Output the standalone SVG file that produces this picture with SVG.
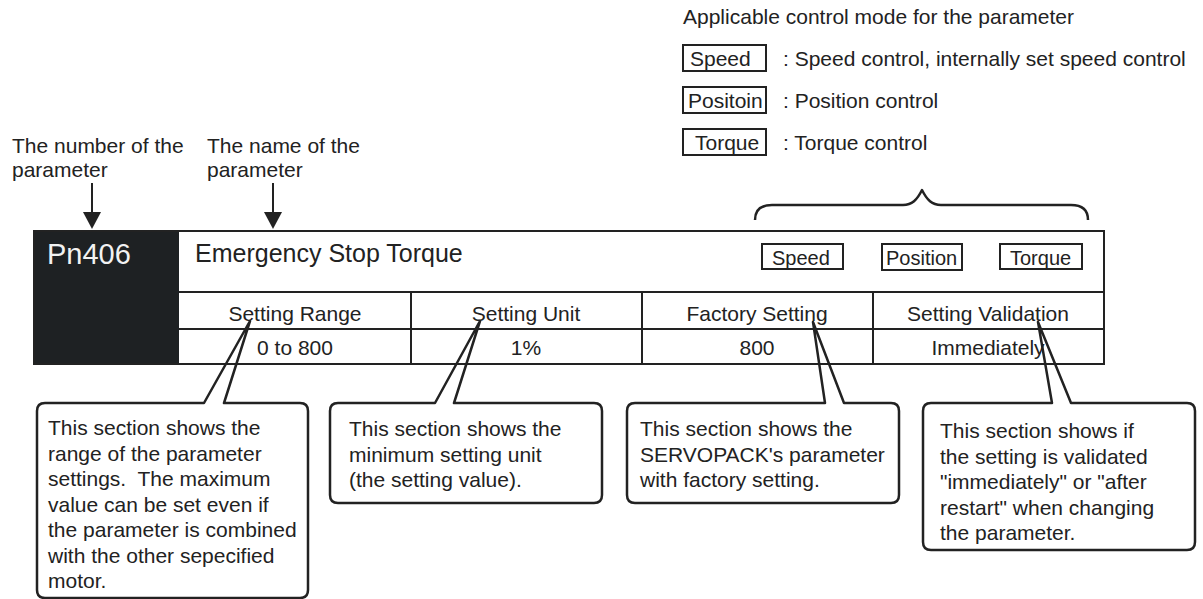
<svg xmlns="http://www.w3.org/2000/svg" width="1203" height="599" viewBox="0 0 1203 599">
<style>
text{font-family:"Liberation Sans",Arial,sans-serif;fill:#222;}
.t21{font-size:21px;}
.t20{font-size:20px;}
.mid{text-anchor:middle;}
.ln{stroke:#222;stroke-width:2;fill:none;}
.box{stroke:#222;stroke-width:2;fill:none;}
.call{stroke:#222;stroke-width:2.5;fill:none;stroke-linejoin:round;}
</style>
<rect width="1203" height="599" fill="#fff"/>

<g id="legend">
<text class="t21" x="683" y="24">Applicable control mode for the parameter</text>
<rect class="box" x="683" y="45" width="83" height="26"/>
<text class="t21" x="690" y="66">Speed</text>
<text class="t21" x="783" y="66">: Speed control, internally set speed control</text>
<rect class="box" x="683" y="87" width="83" height="26"/>
<text class="t21" x="688" y="108">Positoin</text>
<text class="t21" x="783" y="108">: Position control</text>
<rect class="box" x="683" y="129" width="83" height="26"/>
<text class="t21" x="695" y="150">Torque</text>
<text class="t21" x="783" y="150">: Torque control</text>
</g>

<g id="label-number">
<text class="t21" x="12" y="153">The number of the</text>
<text class="t21" x="12" y="177">parameter</text>
</g>
<g id="label-name">
<text class="t21" x="207" y="153">The name of the</text>
<text class="t21" x="207" y="177">parameter</text>
</g>

<g id="table">
<rect x="34" y="231" width="145" height="133" fill="#1e2123"/>
<rect class="ln" x="34" y="231" width="1070" height="133"/>
<line class="ln" x1="179" y1="292" x2="1104" y2="292"/>
<line class="ln" x1="179" y1="329" x2="1104" y2="329"/>
<line class="ln" x1="411" y1="292" x2="411" y2="364"/>
<line class="ln" x1="642" y1="292" x2="642" y2="364"/>
<line class="ln" x1="873" y1="292" x2="873" y2="364"/>
<text x="47" y="264" style="font-size:29px;fill:#f2f2f2">Pn406</text>
<text x="195" y="262" style="font-size:25px">Emergency Stop Torque</text>
<rect class="box" x="762" y="244" width="81" height="25"/>
<text class="t20" x="772" y="265">Speed</text>
<rect class="box" x="882" y="244" width="80" height="26"/>
<text class="t20" x="886" y="265">Position</text>
<rect class="box" x="1000" y="244" width="82" height="25"/>
<text class="t20" x="1010" y="265">Torque</text>
<text class="t21 mid" x="295" y="321">Setting Range</text>
<text class="t21 mid" x="526" y="321">Setting Unit</text>
<text class="t21 mid" x="757" y="321">Factory Setting</text>
<text class="t21 mid" x="988" y="321">Setting Validation</text>
<text class="t21 mid" x="295" y="355">0 to 800</text>
<text class="t21 mid" x="526" y="355">1%</text>
<text class="t21 mid" x="757" y="355">800</text>
<text class="t21 mid" x="988" y="355">Immediately</text>
</g>

<g id="connectors">
<line class="ln" x1="92" y1="183" x2="92" y2="213"/>
<polygon points="83,212 101,212 92,229" fill="#222"/>
<line class="ln" x1="273" y1="183" x2="273" y2="213"/>
<polygon points="264,212 282,212 273,229" fill="#222"/>
<path class="call" d="M755,220 C755,210 760,205 772,205 H903 C912,205 917,200 922,190 C927,200 932,205 941,205 H1071 C1083,205 1088,210 1088,220"/>
</g>

<g id="callout-range">
<path class="call" d="M224,403 H300 Q308,403 308,411 V590 Q308,598 300,598 H45 Q37,598 37,590 V411 Q37,403 45,403 H204 L250,321 Z"/>
<text class="t21" x="48" y="435">This section shows the</text>
<text class="t21" x="48" y="460.5">range of the parameter</text>
<text class="t21" x="48" y="486">settings.&#160; The maximum</text>
<text class="t21" x="48" y="511.5">value can be set even if</text>
<text class="t21" x="48" y="537">the parameter is combined</text>
<text class="t21" x="48" y="562.5">with the other sepecified</text>
<text class="t21" x="48" y="588">motor.</text>
</g>

<g id="callout-unit">
<path class="call" d="M454,403 H594 Q602,403 602,411 V495 Q602,503 594,503 H338 Q330,503 330,495 V411 Q330,403 338,403 H435 L480,321 Z"/>
<text class="t21" x="349" y="436">This section shows the</text>
<text class="t21" x="349" y="461.5">minimum setting unit</text>
<text class="t21" x="349" y="487">(the setting value).</text>
</g>

<g id="callout-factory">
<path class="call" d="M844,403 H891 Q899,403 899,411 V495 Q899,503 891,503 H635 Q627,503 627,495 V411 Q627,403 635,403 H825 L813,322 Z"/>
<text class="t21" x="640" y="436">This section shows the</text>
<text class="t21" x="640" y="461.5">SERVOPACK's parameter</text>
<text class="t21" x="640" y="487">with factory setting.</text>
</g>

<g id="callout-validation">
<path class="call" d="M1071,403 H1187 Q1195,403 1195,411 V542 Q1195,550 1187,550 H931 Q923,550 923,542 V411 Q923,403 931,403 H1052 L1038,322 Z"/>
<text class="t21" x="940" y="438">This section shows if</text>
<text class="t21" x="940" y="463.5">the setting is validated</text>
<text class="t21" x="940" y="489">"immediately" or "after</text>
<text class="t21" x="940" y="514.5">restart" when changing</text>
<text class="t21" x="940" y="540">the parameter.</text>
</g>
</svg>
